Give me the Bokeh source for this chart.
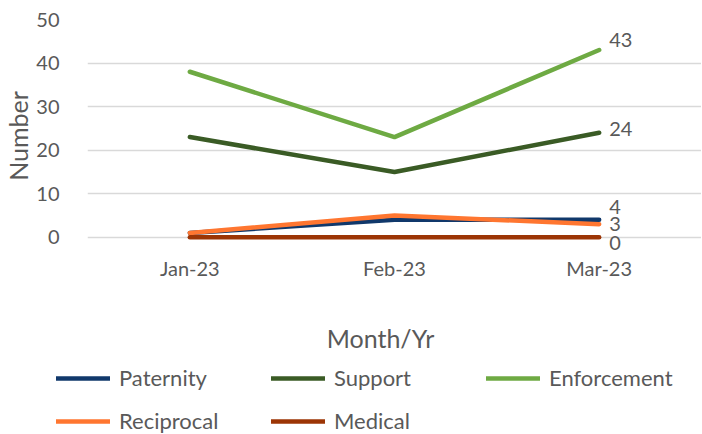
from bokeh.plotting import figure
from bokeh.layouts import column
from bokeh.models import (FactorRange, Range1d, FixedTicker, Legend, LegendItem, Label)
from bokeh.core.properties import value
from bokeh.embed import file_html
from bokeh.resources import INLINE

months = ["Jan-23", "Feb-23", "Mar-23"]
series_names = ["Paternity", "Support", "Enforcement", "Reciprocal", "Medical"]
paternity = [1, 4, 4]
support = [23, 15, 24]
enforcement = [38, 23, 43]
reciprocal = [1, 5, 3]
medical = [0, 0, 0]
y_ticks = [0, 10, 20, 30, 40, 50]
x_title = "Month/Yr"
y_title = "Number"

series_values = [paternity, support, enforcement, reciprocal, medical]
colors = ["#10386B", "#3A5B25", "#6EAA43", "#FF7630", "#9C3505"]
label_dy = [-13, -4, -9.5, 0, 5.5]

FONT = "Lato"
GREY = "#595959"

# ---- main chart ----
p = figure(frame_width=614, frame_height=233, x_range=FactorRange(*months, range_padding=0),
           y_range=Range1d(-3.5, 50), output_backend="svg", toolbar_location=None,
           min_border_left=80, min_border_right=0, min_border_top=19, min_border_bottom=40)
p.frame_align = False
p.outline_line_color = None
p.background_fill_color = "white"
p.border_fill_color = "white"

p.xgrid.grid_line_color = None
p.ygrid.grid_line_color = "#D9D9D9"
p.ygrid.grid_line_width = 1.5
p.yaxis.ticker = FixedTicker(ticks=y_ticks)

for ax in (p.xaxis[0], p.yaxis[0]):
    ax.axis_line_color = None
    ax.major_tick_line_color = None
    ax.minor_tick_line_color = None
    ax.major_label_text_font = FONT
    ax.major_label_text_font_size = "20px"
    ax.major_label_text_color = GREY
    ax.axis_label_text_font = FONT
    ax.axis_label_text_font_style = "normal"
    ax.axis_label_text_color = GREY
    ax.axis_label_text_font_size = "25px"

p.yaxis.major_label_standoff = 22
p.yaxis.axis_label = y_title
p.yaxis.axis_label_standoff = 0
p.xaxis.major_label_standoff = -3

for name, vals, col, dy in zip(series_names, series_values, colors, label_dy):
    p.line(x=months, y=vals, line_color=col, line_width=4.5, line_cap="round", line_join="round")
    p.text(x=[months[-1]], y=[vals[-1]], text=[str(vals[-1])], x_offset=10, y_offset=dy,
           text_font=value(FONT), text_font_size="20px", text_color=GREY,
           text_baseline="middle", text_align="left")

# ---- axis title + legend strip (series drawn off-view so only their legend keys show) ----
p2 = figure(width=694, height=142, x_range=FactorRange(*months, range_padding=0),
            y_range=Range1d(-20, -10), output_backend="svg", toolbar_location=None,
            x_axis_location=None, y_axis_location=None, min_border=0)
p2.frame_align = False
p2.outline_line_color = None
p2.grid.visible = False
p2.border_fill_color = "white"
p2.background_fill_color = "white"

p2.add_layout(Label(x=380, y=97, x_units="screen", y_units="screen", text=x_title,
                    text_font=FONT, text_font_size="25px", text_color=GREY,
                    text_align="center", text_baseline="middle"))

items = []
for name, vals, col in zip(series_names, series_values, colors):
    r = p2.line(x=months, y=vals, line_color=col, line_width=4.5, line_cap="round")
    items.append(LegendItem(label=name, renderers=[r]))

legend = Legend(items=items, location=(56, 0), orientation="horizontal", ncols=3,
                glyph_width=54, glyph_height=22, label_height=22, label_width=136,
                label_standoff=9, spacing=16, padding=0, margin=0,
                border_line_color=None, background_fill_alpha=0,
                label_text_font=FONT, label_text_font_size="22px", label_text_color=GREY)
p2.add_layout(legend, "center")

layout = column(p, p2, spacing=0)
open("out.html", "w").write(file_html(layout, INLINE))
